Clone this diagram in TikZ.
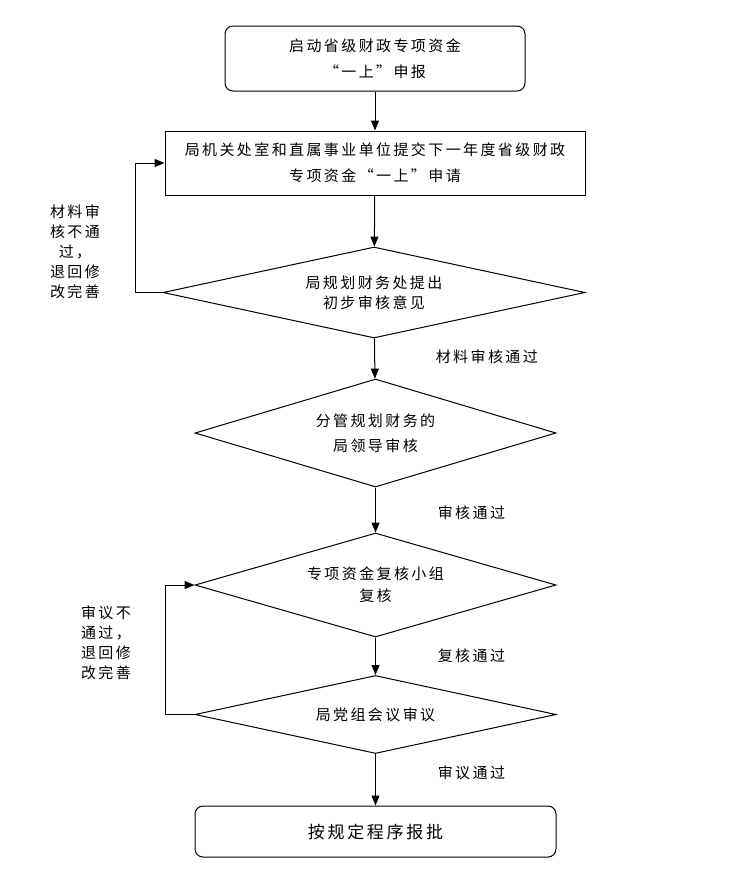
\documentclass[tikz,border=0pt]{standalone}
\usepackage{fontspec}
\setmainfont{Noto Sans CJK SC}[LetterSpace=16]
\usetikzlibrary{shapes.geometric,arrows.meta}
\begin{document}
\begin{tikzpicture}[x=1pt,y=-1pt,line width=1pt]
    \tikzstyle{every node}=[font=\fontsize{15}{26}\selectfont];
    \tikzstyle{box}=[draw,align=center,inner sep=0pt];
    \tikzstyle{terminal}=[box,rounded corners=8pt];
    \tikzstyle{process}=[box];
    \tikzstyle{decision}=[box,diamond];
    \tikzstyle{annot}=[align=center,font=\fontsize{15}{20}\selectfont];
    \tikzstyle{pass}=[anchor=west];
    \tikzstyle{fleche}=[-{Triangle[length=10pt,width=8pt]}];
\useasboundingbox (0,0) rectangle (735,884);

% Etapes
\node[terminal,minimum width=300,minimum height=65] (S) at (375,58.5) {启动省级财政专项资金\\“一上”申报};
\node[process,minimum width=420,minimum height=64] (A) at (375,163) {局机关处室和直属事业单位提交下一年度省级财政\\专项资金“一上”申请};
\node[decision,minimum width=422,minimum height=91,shape aspect=4.6,font=\fontsize{15}{20}\selectfont] (R) at (374,292.5) {局规划财务处提出\\初步审核意见};
\node[decision,minimum width=361,minimum height=108,shape aspect=3.35,font=\fontsize{15}{25}\selectfont] (L) at (375.5,433) {分管规划财务的\\局领导审核};
\node[decision,minimum width=361,minimum height=104,shape aspect=3.45,font=\fontsize{15}{22}\selectfont] (C) at (375.5,585) {专项资金复核小组\\复核};
\node[decision,minimum width=361,minimum height=78,shape aspect=4.6] (P) at (375.5,714.5) {局党组会议审议};
\node[terminal,minimum width=361,minimum height=51,font=\fontsize{17}{26}\selectfont] (E) at (375.5,831.5) {按规定程序报批};

% Annotations
\node[pass] (t1) at (432,357) {材料审核通过};
\node[pass] (t2) at (434,513) {审核通过};
\node[pass] (t3) at (434,656) {复核通过};
\node[pass] (t4) at (434,773) {审议通过};
\node[annot] (n1) at (75,252) {材料审\\核不通\\过，\\退回修\\改完善};
\node[annot] (n2) at (106,643) {审议不\\通过，\\退回修\\改完善};

% Fleches
\draw[fleche] (S) -- (A);
\draw[fleche] (A) -- (R);
\draw[fleche] (R) -- (L);
\draw[fleche] (L) -- (C);
\draw[fleche] (C) -- (P);
\draw[fleche] (P) -- (E);

% Retours
\coordinate (B1) at (135,292.5);
\coordinate (B2) at (165,714.5);
\draw[fleche] (R.west) -- (B1) |- (A.west);
\draw[fleche] (P.west) -- (B2) |- (C.west);

\end{tikzpicture}
\end{document}
